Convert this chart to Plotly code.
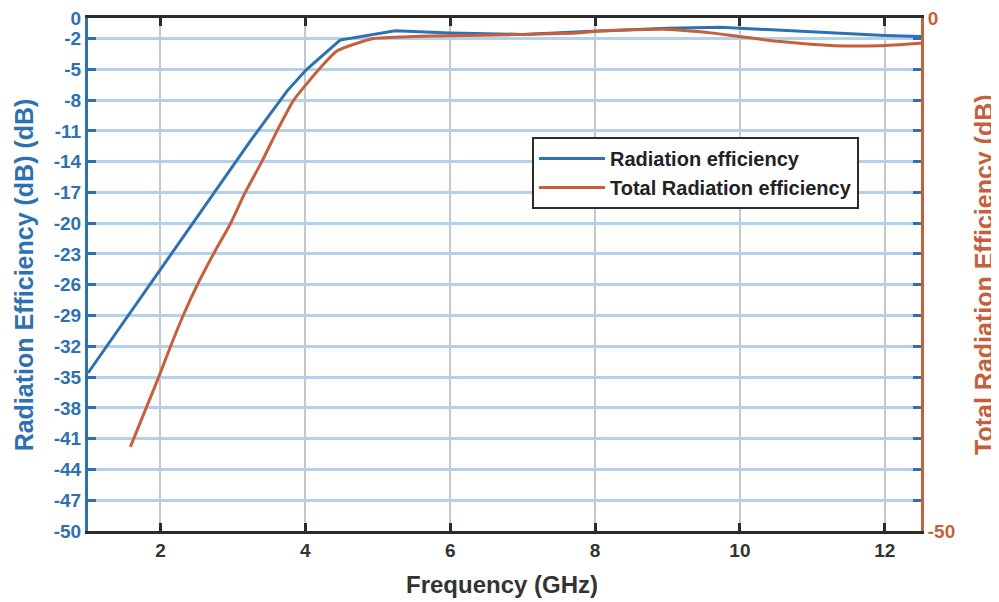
import plotly.graph_objects as go

# Radiation efficiency (blue, left axis)
freq_rad = [1.0, 2.0, 2.74, 3.24, 3.75, 4.02, 4.48, 5.24, 6.0, 7.0, 7.8, 8.5, 9.0, 9.73, 10.0, 10.6, 11.3, 12.0, 12.5]
rad_eff = [-34.6, -24.5, -17.1, -12.0, -7.1, -5.0, -2.15, -1.24, -1.45, -1.6, -1.35, -1.15, -1.0, -0.9, -1.0, -1.25, -1.5, -1.7, -1.8]

# Total radiation efficiency (orange, right axis)
freq_tot = [1.585, 1.976, 2.14, 2.32, 2.51, 2.74, 2.97, 3.17, 3.40, 3.61, 3.84, 4.19, 4.44, 4.94, 5.5, 6.0, 6.87,
            7.8, 8.0, 8.5, 8.95, 9.18, 9.6, 10.0, 10.56, 11.3, 11.94, 12.5]
tot_eff = [-41.8, -35.0, -32.0, -28.9, -26.0, -22.9, -20.0, -17.0, -14.0, -11.0, -8.0, -5.0, -3.2, -2.0, -1.8, -1.72, -1.62,
           -1.43, -1.3, -1.15, -1.1, -1.2, -1.45, -1.82, -2.3, -2.7, -2.7, -2.45]

x_ticks = [2, 4, 6, 8, 10, 12]
y_ticks = [0, -2, -5, -8, -11, -14, -17, -20, -23, -26, -29, -32, -35, -38, -41, -44, -47, -50]
y2_ticks = [0, -50]

BLUE = "#2E71B2"
ORANGE = "#C5603C"
DARK = "#2b2b2b"
FONT = "Liberation Sans, Arial, sans-serif"

fig = go.Figure()
fig.add_trace(go.Scatter(x=freq_rad, y=rad_eff, mode="lines", name="Radiation efficiency",
                         line=dict(color=BLUE, width=3), yaxis="y"))
fig.add_trace(go.Scatter(x=freq_tot, y=tot_eff, mode="lines", name="Total Radiation efficiency",
                         line=dict(color=ORANGE, width=3, shape="spline", smoothing=0.5), yaxis="y2"))

fig.update_layout(
    width=991, height=594,
    margin=dict(l=80, r=78, t=10, b=71),
    paper_bgcolor="white", plot_bgcolor="white",
    font=dict(family=FONT, weight="bold"),
    xaxis=dict(
        range=[1, 12.5], tickvals=x_ticks, ticktext=[str(v) for v in x_ticks],
        ticks="inside", ticklen=8, tickwidth=3, tickcolor=DARK,
        showline=True, linecolor=DARK, linewidth=3, mirror="ticks",
        showgrid=True, gridcolor="#c3c8cf", gridwidth=2, zeroline=False, automargin=False,
        ticklabeloverflow="allow",
        tickfont=dict(size=19, color="#333333", family=FONT, weight="bold"),
    ),
    yaxis=dict(
        range=[-50, 0], tickvals=y_ticks, ticktext=[str(v) for v in y_ticks],
        ticks="inside", ticklen=8, tickwidth=3, tickcolor=BLUE,
        showline=True, linecolor=BLUE, linewidth=3, mirror="ticks",
        showgrid=True, gridcolor="#b5d1e9", gridwidth=2.5, zeroline=False, automargin=False,
        ticklabeloverflow="allow",
        tickfont=dict(size=19, color=BLUE, family=FONT, weight="bold"),
    ),
    yaxis2=dict(
        range=[-50, 0], tickvals=y2_ticks, ticktext=[str(v) for v in y2_ticks],
        overlaying="y", side="right", ticks="",
        showline=True, linecolor=ORANGE, linewidth=3, showgrid=False, zeroline=False, automargin=False,
        ticklabeloverflow="allow",
        tickfont=dict(size=19, color=ORANGE, family=FONT, weight="bold"),
    ),
    legend=dict(
        x=0.533, y=0.768, xanchor="left", yanchor="top",
        bgcolor="white", bordercolor=DARK, borderwidth=2,
        font=dict(size=20, color="#222222", family=FONT, weight="bold"),
        tracegroupgap=0, itemwidth=66,
    ),
    showlegend=True,
    annotations=[
        dict(text="Radiation Efficiency (dB) (dB)", xref="paper", yref="paper",
             x=-0.077, y=0.5, xanchor="center", yanchor="middle", textangle=-90, showarrow=False,
             font=dict(size=25, color=BLUE, family=FONT, weight="bold")),
        dict(text="Total Radiation Efficiency (dB)", xref="paper", yref="paper",
             x=1.075, y=0.5, xanchor="center", yanchor="middle", textangle=-90, showarrow=False,
             font=dict(size=25, color=ORANGE, family=FONT, weight="bold")),
        dict(text="Frequency (GHz)", xref="paper", yref="paper",
             x=0.497, y=-0.105, xanchor="center", yanchor="middle", showarrow=False,
             font=dict(size=24, color="#333333", family=FONT, weight="bold")),
    ],
)

fig.write_html("out.html")
